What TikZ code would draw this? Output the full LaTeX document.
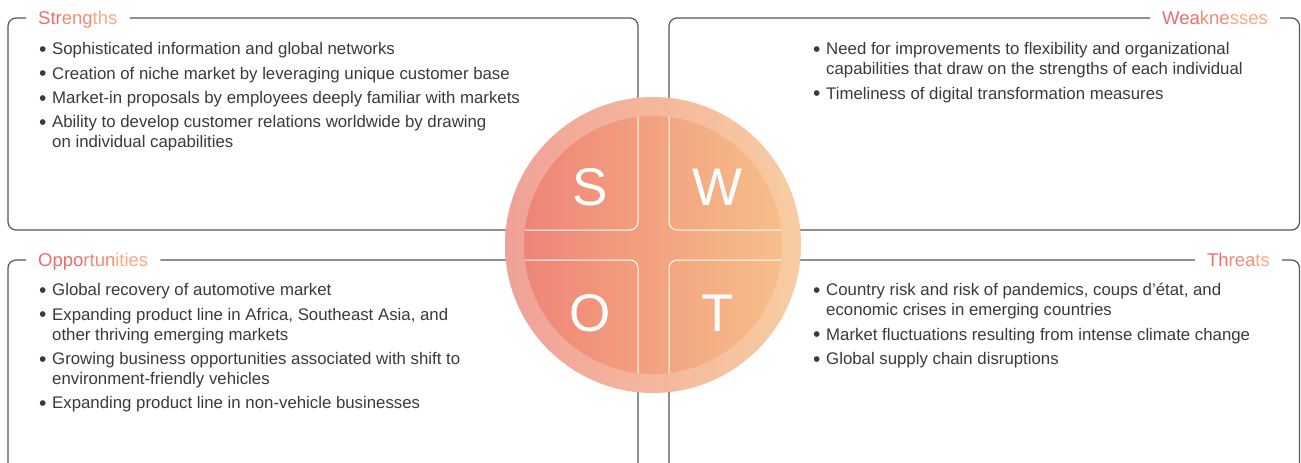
\documentclass[tikz,border=0pt]{standalone}
\usepackage{fontspec}
\setmainfont{Liberation Sans}
\usetikzlibrary{positioning}
\definecolor{framegray}{HTML}{555555}
\definecolor{txtgray}{HTML}{3A3A3A}
\definecolor{tA}{HTML}{EE6B6E}
\definecolor{tB}{HTML}{F28A78}
\definecolor{tC}{HTML}{F6AA84}
\definecolor{ringL}{HTML}{F0A197}
\definecolor{ringR}{HTML}{F8CDA2}
\definecolor{diskL}{HTML}{EE8577}
\definecolor{diskR}{HTML}{F7BF89}
\tikzset{
    %Define style for the frame lines
    frame/.style={
           draw=framegray,
           line width=1.2pt,
           rounded corners=8pt},
    cross/.style={
           draw=white,
           line width=1pt,
           rounded corners=8pt},
    %Define style for titles and items
    title/.style={
           font=\fontsize{18.5}{22}\selectfont,
           inner xsep=12pt, inner ysep=0pt,
           text height=13.2pt, text depth=0pt},
    item/.style={
           font=\fontsize{16.8}{20}\selectfont,
           text=txtgray,
           align=left,
           inner sep=0pt,
           anchor=north west},
    letter/.style={
           font=\fontsize{53}{60}\selectfont,
           text=white,
           inner sep=0pt}
}
\newcommand\bul{\strut\llap{\raisebox{-1.8pt}{\fontsize{21}{20}\selectfont\textbullet}\hspace{5.8pt}}}
\newcommand\frames[1]{
  \draw[#1] (st.west) -| (8,230) -| (638,18) -- (st.east);
  \draw[#1] (wk.east) -| (1299.5,230) -| (669,18) -- (wk.west);
  \draw[#1] (op.west) -| (8,470);
  \draw[#1] (op.east) -| (638,470);
  \draw[#1] (th.east) -| (1299.5,470);
  \draw[#1] (th.west) -| (669,470);
}
\begin{document}
\begin{tikzpicture}[x=1pt,y=-1pt,node distance=4pt]
\useasboundingbox (0,0) rectangle (1301,463);
% titles
\node[title, anchor=west] (st) at (26,18) {{\color{tA}Str}{\color{tB}eng}{\color{tC}ths}};
\node[title, anchor=east] (wk) at (1280,18) {{\color{tA}Wea}{\color{tB}kne}{\color{tC}sses}};
\node[title, anchor=west] (op) at (26,260) {{\color{tA}Oppo}{\color{tB}rtun}{\color{tC}ities}};
\node[title, anchor=east] (th) at (1282,260) {{\color{tA}Th}{\color{tB}rea}{\color{tC}ts}};
% strengths
\node[item] (s1) at (52,40.4) {\bul Sophisticated information and global networks\strut};
\node[item, below right=4pt and 0pt of s1.south west] (s2) {\bul Creation of niche market by leveraging unique customer base\strut};
\node[item, below right=4pt and 0pt of s2.south west] (s3) {\bul Market-in proposals by employees deeply familiar with markets\strut};
\node[item, below right=4pt and 0pt of s3.south west] (s4) {\bul Ability to develop customer relations worldwide by drawing\\on individual capabilities\strut};
% weaknesses
\node[item] (w1) at (826,40.4) {\bul Need for improvements to flexibility and organizational\\capabilities that draw on the strengths of each individual\strut};
\node[item, below right=4pt and 0pt of w1.south west] (w2) {\bul Timeliness of digital transformation measures\strut};
% opportunities
\node[item] (o1) at (52,281.4) {\bul Global recovery of automotive market\strut};
\node[item, below right=4pt and 0pt of o1.south west] (o2) {\bul Expanding product line in Africa, Southeast Asia, and\\other thriving emerging markets\strut};
\node[item, below right=4pt and 0pt of o2.south west] (o3) {\bul Growing business opportunities associated with shift to\\environment-friendly vehicles\strut};
\node[item, below right=4pt and 0pt of o3.south west] (o4) {\bul Expanding product line in non-vehicle businesses\strut};
% threats
\node[item] (t1) at (826,281.4) {\bul Country risk and risk of pandemics, coups d’état, and\\economic crises in emerging countries\strut};
\node[item, below right=4pt and 0pt of t1.south west] (t2) {\bul Market fluctuations resulting from intense climate change\strut};
\node[item, below right=4pt and 0pt of t2.south west] (t3) {\bul Global supply chain disruptions\strut};
% frames
\frames{frame}
% swot circle
\coordinate (c) at (653,245);
\shade[left color=ringL, right color=ringR] (c) circle (148pt);
\shade[left color=diskL, right color=diskR] (c) circle (129pt);
\begin{scope}
  \clip (c) circle (129pt);
  \frames{cross}
\end{scope}
\node[letter] (S) at (590,187) {S};
\node[letter] (W) at (718,187) {W};
\node[letter] (O) at (590,313) {O};
\node[letter] (T) at (718,313) {T};
\end{tikzpicture}
\end{document}
